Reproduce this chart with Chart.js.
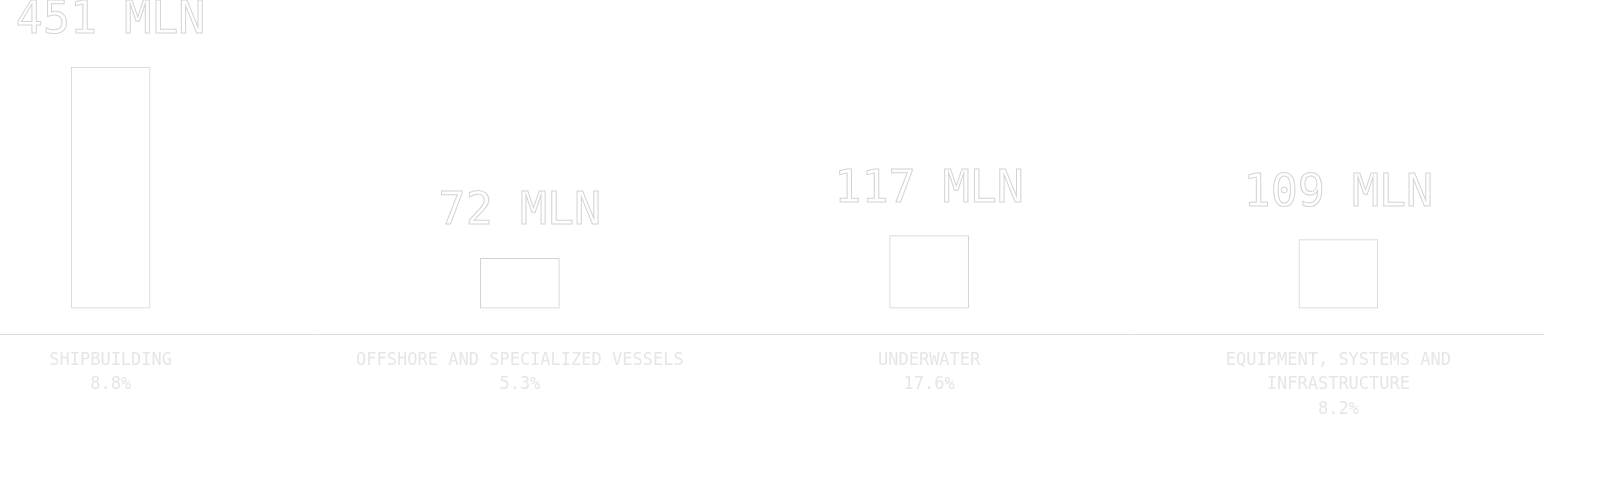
<!DOCTYPE html>
<html>
<head>
<meta charset="utf-8">
<script src="https://cdn.jsdelivr.net/npm/chart.js@4"></script>
<style>
  html, body { margin: 0; padding: 0; background: #ffffff; }
  #frame { width: 1600px; height: 497px; position: relative; overflow: hidden; }
  /* the first column starts left of the page edge in the original layout */
  #wrap { width: 1694px; height: 497px; position: absolute; left: -94px; top: 0; }
</style>
</head>
<body>
<div id="frame"><div id="wrap"><canvas id="marketChart"></canvas></div></div>
<script>
// segments of the market
var categories = [
    ["SHIPBUILDING"],
    ["OFFSHORE AND SPECIALIZED VESSELS"],
    ["UNDERWATER"],
    ["EQUIPMENT, SYSTEMS AND", "INFRASTRUCTURE"]
];
// market size, millions
var values = [451, 72, 117, 109];
// growth rate, %
var shares = [8.8, 5.3, 17.6, 8.2];

var tickLabels = categories.map(function(lines, i) {
    return lines.concat([shares[i].toFixed(1) + "%"]);
});

// draws the hollow "NNN MLN" above every bar
var valueLabels = {
    id: 'valueLabels',
    afterDatasetsDraw: function(chart) {
        var ctx = chart.ctx;
        var meta = chart.getDatasetMeta(0);
        ctx.save();
        ctx.font = '45px "DejaVu Sans Mono", monospace';
        ctx.textAlign = 'center';
        ctx.textBaseline = 'alphabetic';
        ctx.strokeStyle = '#d4d4d4';
        ctx.lineWidth = 1;
        meta.data.forEach(function(bar, i) {
            ctx.strokeText(values[i] + ' MLN', bar.x, bar.y - 34);
        });
        ctx.restore();
    }
};

var ctx = document.getElementById('marketChart').getContext('2d');
var marketChart = new Chart(ctx, {
    type: 'bar',
    data: {
        labels: tickLabels,
        datasets: [{
            data: values,
            base: -26.6,
            backgroundColor: '#ffffff',
            borderColor: '#d2d2d2',
            borderWidth: 1,
            borderSkipped: false,
            barThickness: 79
        }]
    },
    options: {
        responsive: true,
        maintainAspectRatio: false,
        animation: false,
        layout: {
            padding: { top: 67, left: 0, right: 57, bottom: 61 }
        },
        plugins: {
            legend: { display: false },
            tooltip: { enabled: false }
        },
        scales: {
            x: {
                grid: { display: false, drawTicks: false },
                border: { display: true, color: '#dcdcdc', width: 1 },
                ticks: {
                    color: '#e6e6e6',
                    padding: 14,
                    maxRotation: 0,
                    autoSkip: false,
                    font: { family: '"DejaVu Sans Mono", monospace', size: 17, lineHeight: 1.45 }
                }
            },
            y: {
                display: false,
                min: -78,
                max: Math.max.apply(null, values)
            }
        }
    },
    plugins: [valueLabels]
});
</script>
</body>
</html>
